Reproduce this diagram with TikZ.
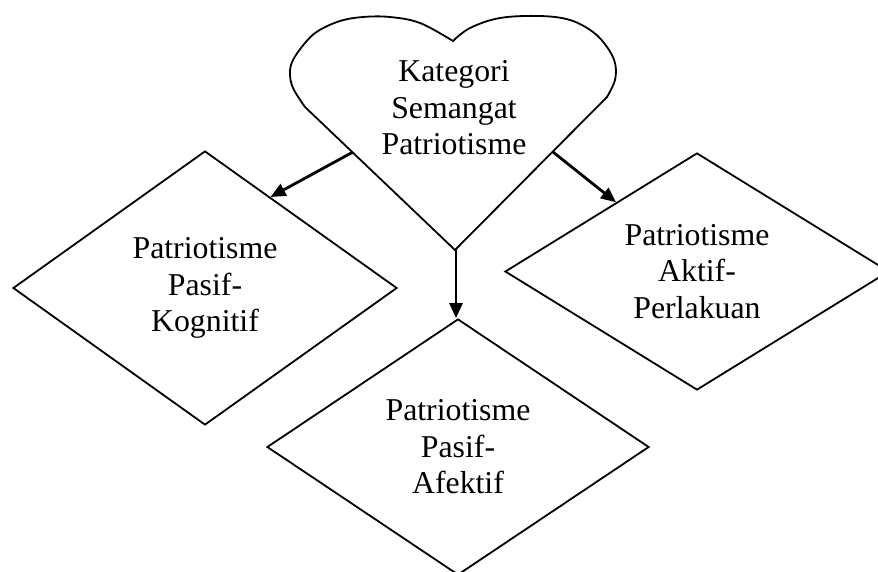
\documentclass[tikz,border=0pt]{standalone}
\usepackage{fontspec}
\setmainfont{Liberation Serif}
\usetikzlibrary{shapes.geometric,arrows.meta,calc}
\begin{document}
\begin{tikzpicture}[x=1pt,y=-1pt,
  outline/.style={draw=black,line width=1.8pt,line join=miter},
  label/.style={align=center,font=\fontsize{31.8}{36.5}\selectfont,inner sep=0pt},
  choice/.style={diamond,outline,label,inner sep=0pt,aspect=1.4},
  link/.style={draw=black,line width=2.8pt,-{Triangle[length=15pt,width=13pt]}}]
\useasboundingbox[fill=white] (0,0) rectangle (878,571);

% heart
\draw[outline] (455,250) -- plot[smooth,tension=0.6] coordinates {(305,107) (293,88) (290,73) (293,60) (305,43) (318,31) (340,21) (363,17) (390,17) (420,23) (453,41)}
  -- plot[smooth,tension=0.6] coordinates {(453,41) (470,28) (500,18) (540,16) (570,20) (593,32) (607,47) (615,63) (615,80) (607,97)} -- cycle;
\node[label] (heart) at (454,108) {Kategori\\Semangat\\Patriotisme};
\coordinate (hl) at (353,152);
\coordinate (hr) at (553,152);
\coordinate (ht) at (456,250);

% diamonds
\node[choice,minimum width=384pt,minimum height=274pt] (kog) at (205,288) {Patriotisme\\Pasif-\\Kognitif};
\node[choice,minimum width=382pt,minimum height=256pt] (afe) at (458,447) {Patriotisme\\Pasif-\\Afektif};
\node[choice,minimum width=384pt,minimum height=237pt] (akt) at (697,271.5) {Patriotisme\\Aktif-\\Perlakuan};

% connectors
\draw[link] (hl) -- ($(kog.north)!0.34!(kog.east)$);
\draw[link] (hr) -- ($(akt.north)!0.42!(akt.west)$);
\draw[link] (ht) -- (ht |- afe.north);
\end{tikzpicture}
\end{document}
